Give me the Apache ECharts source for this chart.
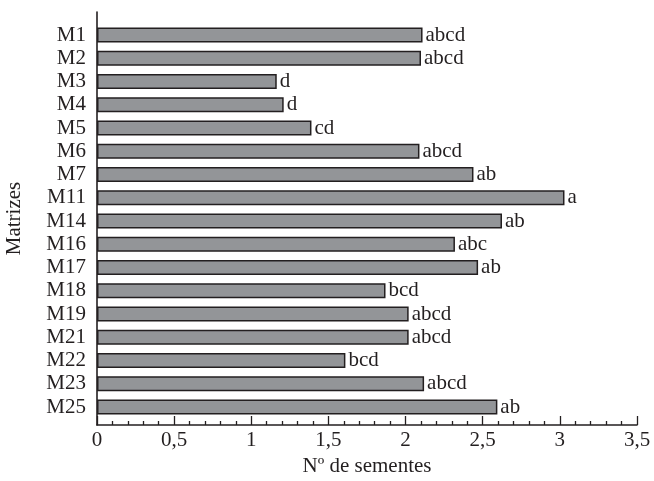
<!DOCTYPE html>
<html>
<head>
<meta charset="utf-8">
<script src="https://cdn.jsdelivr.net/npm/echarts@6/dist/echarts.min.js"></script>
<style>html,body{margin:0;padding:0;background:#fff}#c{width:654px;height:481px}</style>
</head>
<body>
<div id="c"></div>
<script>
const categories = ['M1','M2','M3','M4','M5','M6','M7','M11','M14','M16','M17','M18','M19','M21','M22','M23','M25'];
const values = [2.11, 2.10, 1.165, 1.21, 1.39, 2.09, 2.44, 3.03, 2.625, 2.32, 2.47, 1.87, 2.02, 2.02, 1.61, 2.12, 2.595];
const letters = ['abcd','abcd','d','d','cd','abcd','ab','a','ab','abc','ab','bcd','abcd','abcd','bcd','abcd','ab'];
const xMin = 0, xMax = 3.5, xStep = 0.5;

const FONT = 'Liberation Serif';
const INK = '#231f20';
const FS = 21;
const chart = echarts.init(document.getElementById('c'), null, {renderer: 'canvas'});
chart.setOption({
  animation: false,
  backgroundColor: '#fff',
  textStyle: {fontFamily: FONT, color: INK},
  grid: [
    {left: 97, width: 540, top: 23.4, height: 395.3, containLabel: false, outerBoundsMode: 'none'},
    {left: 97, width: 540, top: 12, height: 413, containLabel: false, outerBoundsMode: 'none'}
  ],
  xAxis: [
    {gridIndex: 0, type: 'value', min: xMin, max: xMax, show: false},
    {gridIndex: 1, type: 'value', min: xMin, max: xMax, interval: xStep,
     name: 'Nº de sementes', nameLocation: 'middle', nameGap: 31,
     nameTextStyle: {fontFamily: FONT, fontSize: FS, color: INK},
     axisLine: {show: true, lineStyle: {color: INK, width: 1.6}},
     axisTick: {show: true, inside: true, length: 9, lineStyle: {color: INK, width: 1.3}},
     minorTick: {show: true, splitNumber: 5, length: 4, lineStyle: {color: INK, width: 1.3}},
     splitLine: {show: false},
     axisLabel: {margin: 5, fontFamily: FONT, fontSize: FS, color: INK,
       formatter: v => String(v).replace('.', ',')}
    }
  ],
  yAxis: [
    {gridIndex: 0, type: 'category', inverse: true, data: categories,
     axisLine: {show: false}, axisTick: {show: false}, splitLine: {show: false},
     axisLabel: {interval: 0, margin: 11, fontFamily: FONT, fontSize: FS, color: INK}
    },
    {gridIndex: 1, type: 'value', min: 0, max: 1,
     name: 'Matrizes', nameLocation: 'middle', nameRotate: 90, nameGap: 72,
     nameTextStyle: {fontFamily: FONT, fontSize: FS, color: INK},
     axisLine: {show: true, lineStyle: {color: INK, width: 1.6}},
     axisTick: {show: false}, axisLabel: {show: false}, splitLine: {show: false}
    }
  ],
  series: [{
    type: 'bar', xAxisIndex: 0, yAxisIndex: 0,
    data: values, barWidth: 15,
    itemStyle: {color: '#939598', borderColor: INK, borderWidth: 1.5},
    label: {show: true, position: 'right', distance: 3, fontFamily: FONT, fontSize: FS, color: INK,
      formatter: p => letters[p.dataIndex]}
  }]
});
</script>
</body>
</html>
